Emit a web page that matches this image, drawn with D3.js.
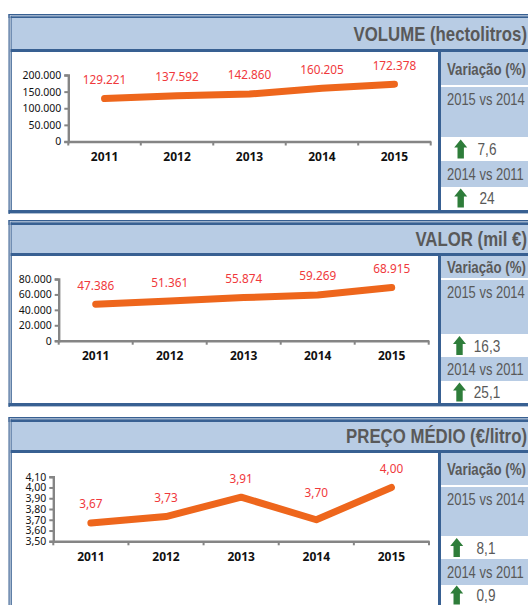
<!DOCTYPE html>
<html><head><meta charset="utf-8">
<script src="https://cdn.jsdelivr.net/npm/d3@7"></script>
<style>html,body{margin:0;padding:0;background:#fff;overflow:hidden}svg{display:block}</style>
</head><body><svg id="c" width="528" height="605"></svg>
<script>
const years = ["2011","2012","2013","2014","2015"];
const volumeValues = [129221,137592,142860,160205,172378];
const valorValues = [47386,51361,55874,59269,68915];
const precoValues = [3.67,3.73,3.91,3.70,4.00];
const volumeTicks = [0,50000,100000,150000,200000];
const valorTicks = [0,20000,40000,60000,80000];
const precoTicks = [3.5,3.6,3.7,3.8,3.9,4.0,4.1];
const titles = ["VOLUME (hectolitros)","VALOR (mil €)","PREÇO MÉDIO (€/litro)"];
const variationHead = "Variação (%)";
const periods = ["2015 vs 2014","2014 vs 2011"];
const volumeVar = ["7,6","24"];
const valorVar = ["16,3","25,1"];
const precoVar = ["8,1","0,9"];

const BLUE="#386092", HEAD="#b8cce4", GREY="#858585", RED="#f0393c", ORANGE="#ee661c", GREEN="#2e7d3a", TXT="#595959";
const loc = d3.formatLocale({decimal:",",thousands:".",grouping:[3],currency:["","€"]});
const fInt = loc.format(",.0f"), f2 = loc.format(".2f");
const svg = d3.select("#c");
const SANS="'Liberation Sans',Arial,sans-serif", CHART="'Noto Sans','Open Sans',sans-serif";

function squeezed(g,str,x,y,size,sx,anchor,weight){
  return g.append("text").text(str).attr("transform",`translate(${x},${y}) scale(${sx},1)`)
    .attr("text-anchor",anchor).attr("font-family",SANS).attr("font-weight",weight)
    .attr("font-size",size).attr("fill",TXT);
}

const panels = [
 {title:titles[0],vals:volumeValues,ticks:volumeTicks,dom:[0,200000],fmt:fInt,
  top:14,head:[18,49],bot:210,axisX:[68.3,430.7],axisY:[141.5,75],divX:438,
  rows:[52,85,87,137,161,187,209],vars:volumeVar,arrowX:460.7,numX:487,tickFs:10.5,nudge:[0,0,0,0,0]},
 {title:titles[1],vals:valorValues,ticks:valorTicks,dom:[0,80000],fmt:fInt,
  top:220,head:[225,253],bot:403,axisX:[58.7,428.7],axisY:[340.7,279],divX:438,
  rows:[256,278,280,334,357,381,403],vars:valorVar,arrowX:459.5,numX:487,tickFs:10.5,nudge:[0,0,0,0,0]},
 {title:titles[2],vals:precoValues,ticks:precoTicks,dom:[3.5,4.1],fmt:f2,
  top:417,head:[422,450],bot:null,axisX:[53.3,429],axisY:[541.3,476.7],divX:438,
  rows:[453,485,487,536,559,585,605],vars:precoVar,arrowX:456.7,numX:486,tickFs:10.5,nudge:[0,0,0,-8,0]}
];

panels.forEach(p=>{
  const g = svg.append("g");
  const bottom = p.bot===null?605:p.bot;
  g.append("rect").attr("x",8.5).attr("y",p.top).attr("width",519.5).attr("height",p.head[0]-p.top).attr("fill",BLUE);
  g.append("rect").attr("x",8.5).attr("y",p.top).attr("width",1.3).attr("height",(p.bot===null?605:p.bot+4)-p.top).attr("fill",BLUE);
  g.append("rect").attr("x",9.8).attr("y",p.top+1.4).attr("width",518.2).attr("height",0.9).attr("fill","#dfe6f0");
  g.append("rect").attr("x",9.8).attr("y",p.top+1.4).attr("width",0.8).attr("height",bottom-p.top).attr("fill","#dfe6f0");
  g.append("rect").attr("x",10.6).attr("y",p.top+2.3).attr("width",1.2).attr("height",bottom-p.top-2.3).attr("fill",BLUE);
  g.append("rect").attr("x",11.8).attr("y",p.head[0]).attr("width",516.2).attr("height",p.head[1]-p.head[0]).attr("fill",HEAD);
  g.append("rect").attr("x",10.6).attr("y",p.head[1]).attr("width",517.4).attr("height",3).attr("fill",BLUE);
  if(p.bot!==null){
    g.append("rect").attr("x",8.5).attr("y",p.bot).attr("width",519.5).attr("height",3.4).attr("fill",BLUE);
  }
  squeezed(g,p.title,527,(p.head[0]+p.head[1])/2+7,20,0.84,"end",700);
  const cx=441, r=p.rows;
  g.append("rect").attr("x",p.divX).attr("y",p.head[1]).attr("width",3).attr("height",bottom-p.head[1]).attr("fill",BLUE);
  [[r[0],r[1]],[r[2],r[3]],[r[4],r[5]]].forEach(b=>g.append("rect").attr("x",cx).attr("y",b[0]).attr("width",87).attr("height",b[1]-b[0]).attr("fill",HEAD));
  squeezed(g,variationHead,447,(r[0]+r[1])/2+6,16,0.83,"start",700);
  squeezed(g,periods[0],447,r[2]+18,16,0.81,"start",400);
  squeezed(g,periods[1],447,(r[4]+r[5])/2+5.5,16,0.81,"start",400);
  [[r[3],r[4]],[r[5],r[6]]].forEach((b,i)=>{
    const my=(b[0]+b[1])/2;
    g.append("path").attr("d","M0,-9.5L6.5,-1.5H3.2V9.5H-3.2V-1.5H-6.5Z").attr("transform",`translate(${p.arrowX},${my})`).attr("fill",GREEN);
    squeezed(g,p.vars[i],p.numX,my+6,17,0.8,"middle",400);
  });
  const x=d3.scaleBand().domain(years).range(p.axisX);
  const y=d3.scaleLinear().domain(p.dom).range(p.axisY);
  const ax=g.append("g").attr("transform",`translate(0,${p.axisY[0]})`);
  const bandEdges=years.map(d=>x(d)).concat(p.axisX[1]);
  ax.call(d3.axisBottom(x).tickSize(0).tickPadding(11));
  ax.selectAll(".tick text").attr("font-family",CHART).attr("font-weight",700).attr("font-size",12).attr("fill","#111");
  ax.select(".domain").attr("stroke",GREY).attr("stroke-width",2.4);
  ax.selectAll("line.edge").data(bandEdges).enter().append("line").attr("class","edge").attr("x1",d=>d).attr("x2",d=>d).attr("y1",0).attr("y2",4).attr("stroke",GREY).attr("stroke-width",2);
  const ay=g.append("g").attr("transform",`translate(${p.axisX[0]},0)`);
  ay.call(d3.axisLeft(y).tickValues(p.ticks).tickFormat(p.fmt).tickSize(4).tickPadding(3));
  ay.select(".domain").attr("stroke",GREY).attr("stroke-width",2.4);
  ay.selectAll(".tick line").attr("stroke",GREY).attr("stroke-width",2);
  ay.selectAll(".tick text").attr("font-family",CHART).attr("font-size",p.tickFs).attr("fill","#111");
  const cxf=d=>x(d)+x.bandwidth()/2;
  const line=d3.line().x((d,i)=>cxf(years[i])).y(d=>y(d));
  g.append("path").datum(p.vals).attr("d",line).attr("fill","none").attr("stroke",ORANGE).attr("stroke-width",7).attr("stroke-linecap","round").attr("stroke-linejoin","round");
  g.selectAll("text.lab").data(p.vals).enter().append("text").attr("class","lab")
    .attr("x",(d,i)=>cxf(years[i])).attr("y",(d,i)=>y(d)-14.5+p.nudge[i]).attr("text-anchor","middle")
    .attr("font-family",CHART).attr("font-size",11.8).attr("fill",RED).text(p.fmt);
});
</script></body></html>
